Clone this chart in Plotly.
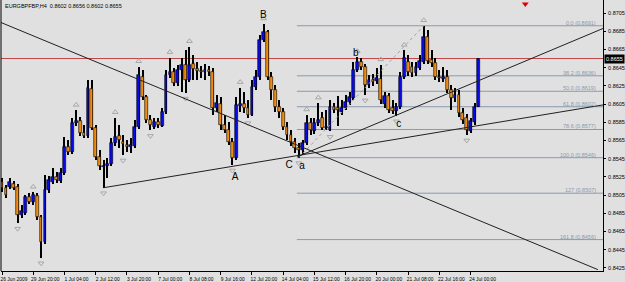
import plotly.graph_objects as go

# ---------------- data ----------------
title_text = "EURGBPFBP,H4  0.8602 0.8656 0.8602 0.8655"

opens = [0.8519, 0.8513, 0.8514, 0.8517, 0.8514, 0.8483, 0.8485, 0.8503, 0.8497, 0.8504,
         0.8481, 0.8453, 0.8511, 0.8519, 0.8525, 0.8520, 0.8529, 0.8558, 0.8552, 0.8584,
         0.8586, 0.8573, 0.8570, 0.8622, 0.8579, 0.8547, 0.8536, 0.8537, 0.8539, 0.8562,
         0.8570, 0.8563, 0.8560, 0.8558, 0.8559, 0.8580, 0.8635, 0.8613, 0.8587, 0.8580,
         0.8585, 0.8581, 0.8596, 0.8637, 0.8640, 0.8628, 0.8642, 0.8648, 0.8631, 0.8649,
         0.8644, 0.8641, 0.8640, 0.8642, 0.8640, 0.8601, 0.8605, 0.8582, 0.8576, 0.8563,
         0.8546, 0.8603, 0.8605, 0.8601, 0.8593, 0.8624, 0.8635, 0.8675, 0.8684, 0.8635,
         0.8620, 0.8602, 0.8596, 0.8580, 0.8571, 0.8563, 0.8557, 0.8555, 0.8562, 0.8584,
         0.8575, 0.8584, 0.8590, 0.8579, 0.8576, 0.8602, 0.8601, 0.8596, 0.8601, 0.8607,
         0.8612, 0.8642, 0.8651, 0.8646, 0.8626, 0.8631, 0.8630, 0.8633, 0.8605, 0.8614,
         0.8601, 0.8597, 0.8602, 0.8635, 0.8651, 0.8646, 0.8639, 0.8645, 0.8651, 0.8679,
         0.8653, 0.8650, 0.8635, 0.8633, 0.8635, 0.8620, 0.8612, 0.8615, 0.8595, 0.8590,
         0.8575, 0.8585, 0.8602]
highs = [0.8524, 0.8516, 0.8524, 0.8520, 0.8517, 0.8494, 0.8505, 0.8507, 0.8508, 0.8507,
         0.8483, 0.8527, 0.8526, 0.8535, 0.8530, 0.8535, 0.8569, 0.8565, 0.8590, 0.8598,
         0.8591, 0.8582, 0.8631, 0.8631, 0.8582, 0.8555, 0.8544, 0.8546, 0.8568, 0.8590,
         0.8582, 0.8571, 0.8565, 0.8568, 0.8587, 0.8646, 0.8642, 0.8615, 0.8593, 0.8590,
         0.8590, 0.8601, 0.8642, 0.8656, 0.8645, 0.8648, 0.8656, 0.8664, 0.8668, 0.8659,
         0.8651, 0.8647, 0.8649, 0.8647, 0.8645, 0.8615, 0.8613, 0.8593, 0.8585, 0.8568,
         0.8613, 0.8623, 0.8618, 0.8609, 0.8631, 0.8642, 0.8681, 0.8693, 0.8686, 0.8640,
         0.8626, 0.8609, 0.8601, 0.8585, 0.8576, 0.8568, 0.8562, 0.8565, 0.8593, 0.8590,
         0.8590, 0.8606, 0.8596, 0.8598, 0.8609, 0.8606, 0.8614, 0.8609, 0.8615, 0.8618,
         0.8651, 0.8657, 0.8656, 0.8649, 0.8637, 0.8638, 0.8645, 0.8648, 0.8618, 0.8617,
         0.8609, 0.8606, 0.8640, 0.8664, 0.8659, 0.8651, 0.8651, 0.8659, 0.8691, 0.8686,
         0.8664, 0.8656, 0.8642, 0.8646, 0.8642, 0.8626, 0.8623, 0.8620, 0.8601, 0.8594,
         0.8590, 0.8606, 0.8656]
lows = [0.8508, 0.8502, 0.8512, 0.8511, 0.8474, 0.8480, 0.8483, 0.8495, 0.8494, 0.8478,
        0.8436, 0.8451, 0.8507, 0.8517, 0.8518, 0.8518, 0.8527, 0.8549, 0.8550, 0.8581,
        0.8570, 0.8568, 0.8568, 0.8576, 0.8544, 0.8533, 0.8513, 0.8524, 0.8537, 0.8559,
        0.8557, 0.8549, 0.8552, 0.8551, 0.8557, 0.8578, 0.8609, 0.8584, 0.8576, 0.8578,
        0.8579, 0.8580, 0.8594, 0.8634, 0.8625, 0.8625, 0.8618, 0.8617, 0.8629, 0.8631,
        0.8631, 0.8634, 0.8631, 0.8636, 0.8593, 0.8596, 0.8576, 0.8573, 0.8560, 0.8538,
        0.8544, 0.8596, 0.8595, 0.8590, 0.8592, 0.8620, 0.8631, 0.8673, 0.8631, 0.8609,
        0.8596, 0.8590, 0.8576, 0.8565, 0.8559, 0.8551, 0.8546, 0.8549, 0.8560, 0.8571,
        0.8572, 0.8581, 0.8576, 0.8576, 0.8575, 0.8595, 0.8581, 0.8593, 0.8598, 0.8604,
        0.8609, 0.8640, 0.8642, 0.8615, 0.8623, 0.8625, 0.8627, 0.8605, 0.8601, 0.8595,
        0.8594, 0.8592, 0.8600, 0.8633, 0.8636, 0.8635, 0.8636, 0.8642, 0.8649, 0.8649,
        0.8646, 0.8631, 0.8629, 0.8629, 0.8617, 0.8598, 0.8607, 0.8591, 0.8583, 0.8571,
        0.8573, 0.8582, 0.8602]
closes = [0.8513, 0.8505, 0.8519, 0.8513, 0.8483, 0.8487, 0.8503, 0.8497, 0.8505, 0.8481,
          0.8453, 0.8511, 0.8522, 0.8525, 0.8522, 0.8529, 0.8558, 0.8552, 0.8584, 0.8586,
          0.8573, 0.8570, 0.8623, 0.8579, 0.8547, 0.8537, 0.8537, 0.8539, 0.8562, 0.8569,
          0.8565, 0.8561, 0.8558, 0.8560, 0.8580, 0.8637, 0.8613, 0.8587, 0.8582, 0.8585,
          0.8582, 0.8596, 0.8637, 0.8640, 0.8628, 0.8642, 0.8648, 0.8631, 0.8648, 0.8644,
          0.8641, 0.8640, 0.8642, 0.8640, 0.8601, 0.8606, 0.8582, 0.8576, 0.8563, 0.8546,
          0.8604, 0.8605, 0.8601, 0.8593, 0.8624, 0.8635, 0.8675, 0.8684, 0.8635, 0.8620,
          0.8602, 0.8596, 0.8580, 0.8571, 0.8563, 0.8557, 0.8555, 0.8562, 0.8584, 0.8576,
          0.8584, 0.8587, 0.8579, 0.8580, 0.8602, 0.8598, 0.8598, 0.8601, 0.8607, 0.8613,
          0.8642, 0.8651, 0.8646, 0.8626, 0.8631, 0.8629, 0.8634, 0.8609, 0.8614, 0.8598,
          0.8597, 0.8602, 0.8635, 0.8656, 0.8640, 0.8639, 0.8646, 0.8652, 0.8679, 0.8652,
          0.8650, 0.8635, 0.8634, 0.8635, 0.8620, 0.8612, 0.8615, 0.8595, 0.8587, 0.8576,
          0.8586, 0.8602, 0.8655]

tick_bars = [0, 8, 16, 24, 32, 40, 48, 56, 64, 72, 80, 88, 96, 104, 112, 120]
tick_labels = ["26 Jun 2009", "29 Jun 20:00", "1 Jul 04:00", "2 Jul 12:00", "3 Jul 20:00",
               "7 Jul 00:00", "8 Jul 08:00", "9 Jul 16:00", "12 Jul 20:00", "14 Jul 04:00",
               "15 Jul 12:00", "16 Jul 20:00", "20 Jul 00:00", "21 Jul 08:00",
               "22 Jul 16:00", "24 Jul 00:00"]
price_ticks = [0.8425, 0.8445, 0.8465, 0.8485, 0.8505, 0.8525, 0.8545, 0.8565,
               0.8585, 0.8605, 0.8625, 0.8645, 0.8665, 0.8685, 0.8705]

bid_price = 0.8655

fib_levels = ["0.0", "38.2", "50.0", "61.8", "78.6", "100.0", "127", "161.8"]
fib_prices = [0.8691, 0.8636, 0.8619, 0.8602, 0.8577, 0.8546, 0.8507, 0.8456]
fib_start_bar = 75.5
fib_anchor_bars = [76, 108]
fib_anchor_prices = [0.8546, 0.8691]

# trend lines: (bar, price) start and end
trend_bars = [(-0.5, 152.6), (26, 153.9), (75.6, 153.9)]
trend_prices = [(0.8695, 0.8423), (0.8513, 0.8604), (0.8547, 0.8688)]

wave_text = ["A", "B", "C", "a", "b", "c"]
wave_bars = [59.7, 66.9, 73.5, 76.8, 90.6, 101.6]
wave_prices = [0.8524, 0.8702, 0.8537, 0.8536, 0.8660, 0.8582]

alert_bar = [134]
alert_price = [0.8715]

# ---------------- styles ----------------
BG = "#E0E0E0"
BULL = "#0A0AE6"
BEAR = "#F28C0F"
FIB = "#8A9AAE"
FONT = "Liberation Sans"

n = len(opens)
xs = list(range(n))

fig = go.Figure()

# wicks
fig.add_trace(go.Bar(x=xs, y=[h - l for h, l in zip(highs, lows)], base=lows,
                     width=0.26, marker=dict(color="#000000", line=dict(width=0)),
                     hoverinfo="skip"))
# bodies
body_base = [min(o, c) for o, c in zip(opens, closes)]
body_h = [max(abs(c - o), 0.00003) for o, c in zip(opens, closes)]
body_col = [BULL if c >= o else BEAR for o, c in zip(opens, closes)]
fig.add_trace(go.Bar(x=xs, y=body_h, base=body_base, width=0.72,
                     marker=dict(color=body_col, line=dict(color="#000000", width=0.6)),
                     hoverinfo="skip"))

# fractals
up_x, up_y, dn_x, dn_y = [], [], [], []
for i in range(2, n - 2):
    if highs[i] > max(highs[i - 2], highs[i - 1], highs[i + 1], highs[i + 2]):
        up_x.append(i); up_y.append(highs[i] + 0.0006)
    if lows[i] < min(lows[i - 2], lows[i - 1], lows[i + 1], lows[i + 2]):
        dn_x.append(i); dn_y.append(lows[i] - 0.0006)
fig.add_trace(go.Scatter(x=up_x, y=up_y, mode="markers",
                         marker=dict(symbol="triangle-up-open", size=5, color="#A8A8A8",
                                     line=dict(width=1, color="#A8A8A8")), hoverinfo="skip"))
fig.add_trace(go.Scatter(x=dn_x, y=dn_y, mode="markers",
                         marker=dict(symbol="triangle-down-open", size=5, color="#A8A8A8",
                                     line=dict(width=1, color="#A8A8A8")), hoverinfo="skip"))

xmin, xmax = -0.26, 153.9
ymin, ymax = 0.84215, 0.87193

# bid line
fig.add_shape(type="line", x0=xmin, x1=xmax, y0=bid_price, y1=bid_price,
              line=dict(color="#C04848", width=1), layer="below")

# fib lines
for lvl, p in zip(fib_levels, fib_prices):
    fig.add_shape(type="line", x0=fib_start_bar, x1=xmax, y0=p, y1=p,
                  line=dict(color=FIB, width=1), layer="below")
    fig.add_annotation(x=1, xref="paper", y=p, yref="y", text=f"{lvl} ({p:.4f})",
                       showarrow=False, xanchor="right", yanchor="bottom", xshift=-5,
                       yshift=-2, font=dict(size=5.5, color=FIB, family=FONT))
fig.add_trace(go.Scatter(x=fib_anchor_bars, y=fib_anchor_prices, mode="lines",
                         line=dict(color="#A0A0A0", width=1, dash="dot"), hoverinfo="skip"))

# trend lines
for (bx0, bx1), (py0, py1) in zip(trend_bars, trend_prices):
    fig.add_trace(go.Scatter(x=[bx0, bx1], y=[py0, py1], mode="lines",
                             line=dict(color="#202020", width=1), hoverinfo="skip"))

# wave labels
fig.add_trace(go.Scatter(x=wave_bars, y=wave_prices, mode="text", text=wave_text,
                         textfont=dict(size=10, color="#000000", family=FONT),
                         hoverinfo="skip"))

# alert arrow
fig.add_trace(go.Scatter(x=alert_bar, y=alert_price, mode="markers",
                         marker=dict(symbol="triangle-down", size=6, color="#E00000"),
                         hoverinfo="skip", cliponaxis=False))

# left border
fig.add_shape(type="line", xref="paper", yref="paper", x0=0, x1=0, y0=0, y1=1,
              line=dict(color="#000000", width=1))

# title text
fig.add_annotation(x=0, xref="paper", y=1, yref="paper", text=title_text, showarrow=False,
                   xanchor="left", yanchor="top", xshift=2, yshift=-1,
                   font=dict(size=5.5, color="#000000", family=FONT))

# current price label
fig.add_annotation(x=1, xref="paper", y=bid_price, yref="y", text=f"{bid_price:.4f}",
                   showarrow=False, xanchor="left", yanchor="middle", xshift=1,
                   bgcolor="#000000", borderpad=1,
                   font=dict(size=5.5, color="#FFFFFF", family=FONT))

fig.update_layout(
    width=625, height=282,
    margin=dict(l=1, r=20, t=0, b=11),
    paper_bgcolor=BG, plot_bgcolor=BG,
    showlegend=False, barmode="overlay", bargap=0,
    xaxis=dict(range=[xmin, xmax], tickvals=tick_bars, ticktext=tick_labels,
               tickangle=0, ticklabeloverflow="allow",
               showgrid=False, zeroline=False, showline=True, linecolor="#000000",
               linewidth=1, ticks="outside", ticklen=3, tickcolor="#000000",
               ticklabelshift=12, ticklabelstandoff=0,
               tickfont=dict(size=4.9, color="#000000", family=FONT), fixedrange=True),
    yaxis=dict(range=[ymin, ymax], side="right", tickvals=price_ticks,
               ticktext=[f"{p:.4f}" for p in price_ticks],
               showgrid=False, zeroline=False, showline=True, linecolor="#000000",
               linewidth=1, ticks="outside", ticklen=2, tickcolor="#000000",
               ticklabelstandoff=1,
               tickfont=dict(size=5.5, color="#000000", family=FONT), fixedrange=True),
)

fig.write_html("out.html")
